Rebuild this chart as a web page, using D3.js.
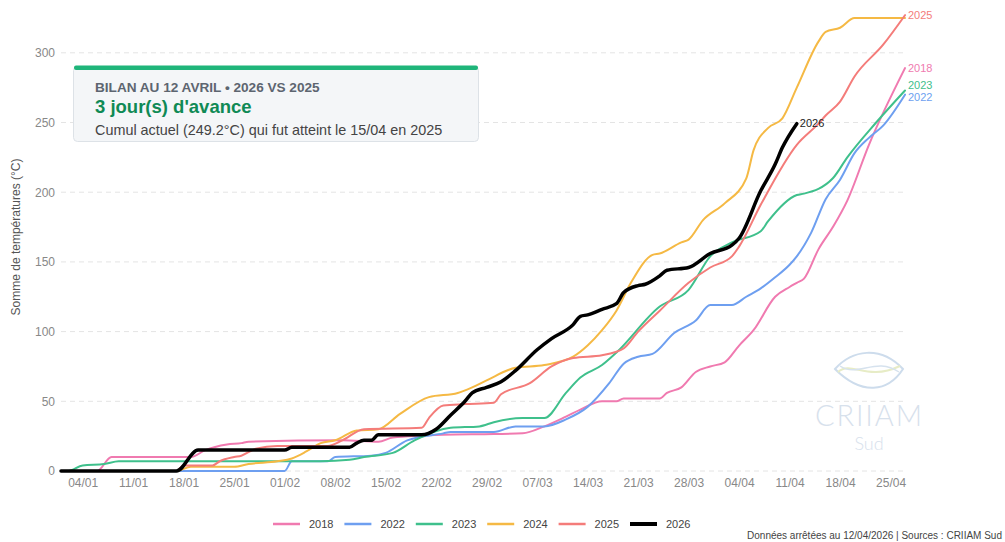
<!DOCTYPE html>
<html>
<head>
<meta charset="utf-8">
<script src="https://cdn.jsdelivr.net/npm/d3@7"></script>
<style>
  html, body { margin: 0; padding: 0; background: #fff; }
  svg { display: block; font-family: "Liberation Sans", Arial, sans-serif; }
</style>
</head>
<body>
<div id="chart"></div>
<script>
// cumul des temperatures, [jour/mois, valeur]
const serie2018 = [["01/01",0],["06/01",0],["08/01",10],["19/01",10],["21/01",15],["24/01",19],["26/01",20],["27/01",21],["09/02",22],["14/02",21],["16/02",24],["23/02",26],["01/03",26.5],["05/03",27],["08/03",32],["11/03",39],["13/03",44],["16/03",50],["18/03",50],["19/03",52],["24/03",52],["25/03",56],["27/03",60],["29/03",71],["31/03",75],["02/04",78],["04/04",90],["06/04",101],["09/04",125],["11/04",132],["12/04",135],["13/04",138],["15/04",159],["17/04",175],["19/04",194],["22/04",234],["27/04",289]]
const serie2022 = [["01/01",0],["01/02",0],["02/02",7],["07/02",7],["08/02",10],["13/02",11],["15/02",13],["18/02",22],["23/02",27],["24/02",28],["01/03",28],["04/03",32],["08/03",32],["11/03",37],["14/03",46],["17/03",63],["19/03",77],["21/03",82],["23/03",84],["26/03",99],["29/03",108],["31/03",119],["03/04",119],["05/04",125],["07/04",131],["09/04",139],["11/04",148],["12/04",154],["14/04",171],["16/04",195],["18/04",209],["20/04",228],["22/04",239],["24/04",248],["27/04",270]]
const serie2023 = [["01/01",0],["02/01",0],["04/01",4],["07/01",5],["09/01",7],["06/02",7],["10/02",8],["12/02",10],["16/02",13],["19/02",22],["24/02",31],["28/02",32],["01/03",35],["05/03",38],["08/03",38],["11/03",56],["13/03",67],["16/03",76],["18/03",85],["24/03",118],["28/03",130],["31/03",154],["03/04",164],["07/04",172],["08/04",179],["12/04",198],["13/04",199],["17/04",210],["19/04",225],["23/04",250],["27/04",273]]
const serie2024 = [["01/01",0],["17/01",0],["19/01",3],["25/01",3],["27/01",5],["31/01",7],["02/02",9],["04/02",14],["06/02",20],["08/02",22],["11/02",29],["14/02",30],["17/02",41],["21/02",53],["25/02",56],["27/02",60],["29/02",65],["04/03",74],["08/03",76],["12/03",82],["14/03",90],["16/03",101],["18/03",115],["20/03",135],["23/03",155],["24/03",156],["27/03",164],["28/03",166],["30/03",180],["02/04",192],["05/04",210],["06/04",230],["08/04",246],["10/04",253],["12/04",275],["15/04",308],["16/04",315],["18/04",318],["20/04",325],["27/04",325]]
const serie2025 = [["01/01",0],["17/01",0],["18/01",4],["22/01",4],["23/01",7],["25/01",10],["26/01",11],["28/01",16],["31/01",18],["07/02",18],["09/02",22],["12/02",30],["20/02",31],["21/02",38],["23/02",47],["26/02",48],["01/03",49],["02/03",55],["06/03",63],["09/03",75],["12/03",81],["16/03",83],["19/03",88],["21/03",100],["24/03",115],["28/03",135],["31/03",146],["03/04",154],["04/04",161],["07/04",191],["12/04",234],["15/04",249.2],["16/04",255],["18/04",265],["20/04",283],["24/04",306],["27/04",327]]
const serie2026 = [["01/01",0],["17/01",0],["20/01",15],["01/02",15],["02/02",17],["10/02",17],["11/02",20],["12/02",22],["13/02",22],["14/02",26],["20/02",26],["22/02",30],["24/02",40],["26/02",50],["27/02",56],["29/02",60],["02/03",64],["04/03",72],["07/03",87],["09/03",95],["12/03",105],["13/03",111],["14/03",112],["16/03",116],["18/03",120],["19/03",128],["21/03",133],["22/03",134],["24/03",140],["25/03",144],["28/03",146],["31/03",156],["03/04",162],["04/04",167],["07/04",201],["09/04",220],["10/04",232],["12/04",249.2]]

const years = ["2018", "2022", "2023", "2024", "2025", "2026"]
const colors = ["#f07ab0", "#6e9ff0", "#3fc08c", "#f5b944", "#f47c7a", "#000000"]
const series = [serie2018, serie2022, serie2023, serie2024, serie2025, serie2026]
const showEndLabel = [true, true, true, false, true, true]
const labelShift = [0, 3, -5, 0, 0, 0]

const xTicks = ["04/01","11/01","18/01","25/01","01/02","08/02","15/02","22/02","29/02","07/03","14/03","21/03","28/03","04/04","11/04","18/04","25/04"]
const yTicks = [0, 50, 100, 150, 200, 250, 300]
const xDomain = ["01/01", "27/04"]
const yDomain = [0, 330]

const W = 1005, H = 542
const margin = {left: 61, right: 905, top: 11, bottom: 471}

// 2024 = année bissextile de reference (29/02)
const parseDay = s => { const [d, m] = s.split("/").map(Number); return new Date(2024, m - 1, d) }

const svg = d3.select("#chart").append("svg")
  .attr("width", W)
  .attr("height", H)

const x = d3.scaleTime().domain(xDomain.map(parseDay)).range([margin.left, margin.right])
const y = d3.scaleLinear().domain(yDomain).range([margin.bottom, margin.top])

// grille
svg.append("g").selectAll("line")
  .data(yTicks)
  .join("line")
  .attr("x1", margin.left).attr("x2", margin.right)
  .attr("y1", d => y(d)).attr("y2", d => y(d))
  .attr("stroke", "#e4e4e4")
  .attr("stroke-dasharray", "5,4")

// watermark CRIIAM
const wm = svg.append("g").attr("class", "watermark")
wm.append("path")
  .attr("d", "M835,369 C852,350 880,345 903,369 C888,392 862,396 835,369 Z")
  .attr("fill", "none").attr("stroke", "#cddcec").attr("stroke-width", 2)
wm.append("path")
  .attr("d", "M838,372 C852,360 866,382 900,366")
  .attr("fill", "none").attr("stroke", "#e7ecc6").attr("stroke-width", 2)
wm.append("path")
  .attr("d", "M840,366 C858,378 876,356 899,372")
  .attr("fill", "none").attr("stroke", "#d6e2ee").attr("stroke-width", 1.5)
wm.append("text")
  .attr("x", 815).attr("y", 426)
  .attr("textLength", 107)
  .style("font-family", "Lato")
  .style("font-weight", 300)
  .style("font-size", "29px")
  .attr("fill", "#d7e1ec")
  .text("CRIIAM")
wm.append("text")
  .attr("x", 869).attr("y", 450)
  .attr("text-anchor", "middle")
  .style("font-family", "Lato")
  .style("font-weight", 300)
  .style("font-size", "18px")
  .attr("fill", "#d7e1ec")
  .text("Sud")

// axes
const xAxis = svg.append("g")
  .attr("transform", `translate(0,${margin.bottom})`)
  .call(d3.axisBottom(x).tickValues(xTicks.map(parseDay)).tickFormat(d3.timeFormat("%d/%m")).tickSize(0).tickPadding(7))
const yAxis = svg.append("g")
  .attr("transform", `translate(${margin.left},0)`)
  .call(d3.axisLeft(y).tickValues(yTicks).tickSize(0).tickPadding(6))

;[xAxis, yAxis].forEach(axis => {
  axis.select(".domain").remove()
  axis.selectAll("text")
    .attr("fill", "#888")
    .style("font-size", "12px")
    .style("font-family", "Liberation Sans, Arial, sans-serif")
})

svg.append("text")
  .attr("transform", `translate(20,237) rotate(-90)`)
  .attr("text-anchor", "middle")
  .attr("fill", "#555")
  .style("font-size", "12px")
  .text("Somme de températures (°C)")

// courbes
const line = d3.line()
  .x(d => x(parseDay(d[0])))
  .y(d => y(d[1]))
  .curve(d3.curveMonotoneX)

const lines = svg.append("g").attr("class", "lines")
series.forEach((s, i) => {
  lines.append("path")
    .datum(s)
    .attr("d", line)
    .attr("fill", "none")
    .attr("stroke", colors[i])
    .attr("stroke-width", years[i] === "2026" ? 3.5 : 2)
    .attr("stroke-linejoin", "round")
    .attr("stroke-linecap", "round")
})

// etiquettes en bout de courbe
series.forEach((s, i) => {
  if (!showEndLabel[i]) return
  const last = s[s.length - 1]
  svg.append("text")
    .attr("x", x(parseDay(last[0])) + 3)
    .attr("y", y(last[1]) + labelShift[i])
    .attr("dy", "0.35em")
    .attr("fill", years[i] === "2026" ? "#222" : colors[i])
    .style("font-size", "11px")
    .text(years[i])
})

// encart bilan
const box = svg.append("g").attr("class", "bilan")
box.append("rect")
  .attr("x", 73.5).attr("y", 66.5)
  .attr("width", 405).attr("height", 75)
  .attr("rx", 4)
  .attr("fill", "#f4f6f8")
  .attr("stroke", "#dde2e7")
box.append("rect")
  .attr("x", 74).attr("y", 65.5)
  .attr("width", 404).attr("height", 4.5)
  .attr("rx", 2)
  .attr("fill", "#1fb57a")
box.append("text")
  .attr("x", 95).attr("y", 92)
  .attr("fill", "#5d6570")
  .style("font-size", "13.6px")
  .style("font-weight", "bold")
  .text("BILAN AU 12 AVRIL • 2026 VS 2025")
box.append("text")
  .attr("x", 95).attr("y", 113)
  .attr("fill", "#0f8a55")
  .style("font-size", "18.5px")
  .style("font-weight", "bold")
  .text("3 jour(s) d'avance")
box.append("text")
  .attr("x", 95).attr("y", 135)
  .attr("fill", "#444")
  .style("font-size", "14.4px")
  .text("Cumul actuel (249.2°C) qui fut atteint le 15/04 en 2025")

// legende
const legend = svg.append("g").attr("class", "legend")
years.forEach((yr, i) => {
  const lx = 273 + i * 71.4
  legend.append("line")
    .attr("x1", lx).attr("x2", lx + 27)
    .attr("y1", 524).attr("y2", 524)
    .attr("stroke", colors[i])
    .attr("stroke-width", yr === "2026" ? 4 : 2.5)
  legend.append("text")
    .attr("x", lx + 36).attr("y", 524)
    .attr("dy", "0.35em")
    .attr("fill", "#444")
    .style("font-size", "11px")
    .text(yr)
})

svg.append("text")
  .attr("x", 1002).attr("y", 539)
  .attr("text-anchor", "end")
  .attr("fill", "#444")
  .style("font-size", "10px")
  .text("Données arrêtées au 12/04/2026 | Sources : CRIIAM Sud")
</script>
</body>
</html>
